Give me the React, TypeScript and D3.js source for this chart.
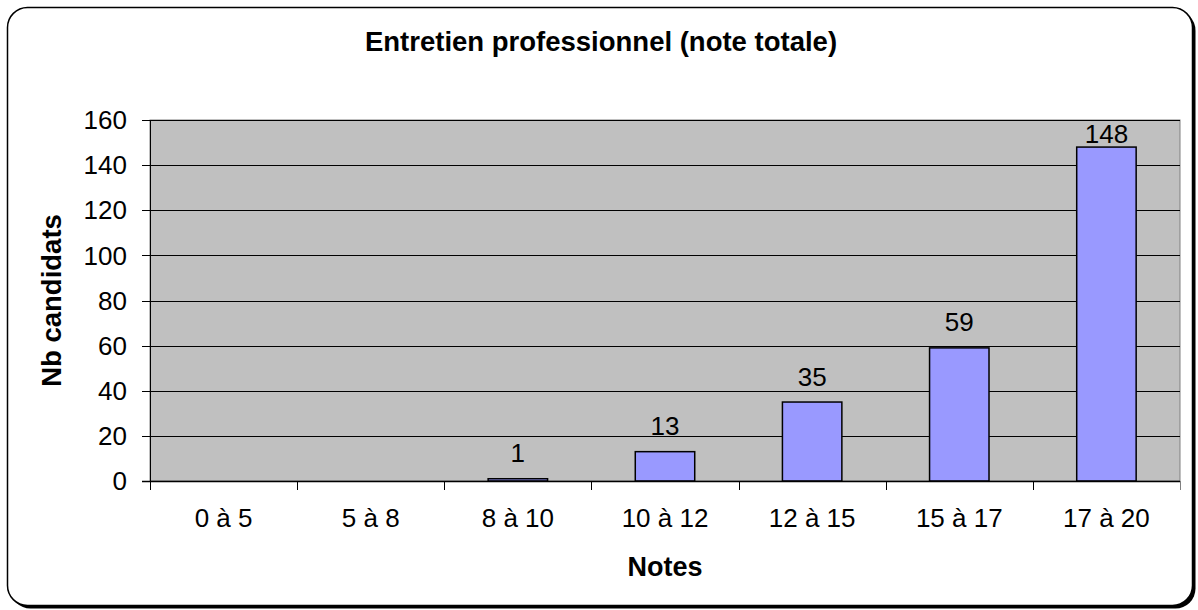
import React from "react";
import * as d3 from "d3";

const categories = ["0 à 5", "5 à 8", "8 à 10", "10 à 12", "12 à 15", "15 à 17", "17 à 20"];
const counts = [0, 0, 1, 13, 35, 59, 148];
const yTicks = [0, 20, 40, 60, 80, 100, 120, 140, 160];
const titleText = "Entretien professionnel (note totale)";
const xTitle = "Notes";
const yTitle = "Nb candidats";

const W = 1198;
const H = 610;
const plot = { left: 150, right: 1180, top: 120, bottom: 481 };
const FONT = "Arial, 'Liberation Sans', Helvetica, sans-serif";
const FS = 26;

export default function App() {
  const x = d3
    .scaleBand<string>()
    .domain(categories)
    .range([plot.left, plot.right])
    .paddingInner(0.596)
    .paddingOuter(0.298);
  const y = d3.scaleLinear().domain([0, 160]).range([plot.bottom, plot.top]);
  const step = (plot.right - plot.left) / categories.length;
  const boundaries = d3.range(categories.length + 1).map((i) => plot.left + i * step);

  return (
    <svg
      width={W}
      height={H}
      style={{ position: "absolute", left: 0, top: 0, display: "block", background: "#fff" }}
      fontFamily={FONT}
    >
      {/* frame with shadow */}
      <rect x={10.5} y={10.5} width={1185} height={598} rx={20} fill="#000" />
      <rect x={7.5} y={7.5} width={1185} height={598} rx={20} fill="#fff" stroke="#000" strokeWidth={1.5} />

      {/* title */}
      <text x={601} y={51} textAnchor="middle" fontSize={27.5} fontWeight="bold" fill="#000">
        {titleText}
      </text>

      {/* plot area */}
      <rect
        x={plot.left}
        y={plot.top}
        width={plot.right - plot.left}
        height={plot.bottom - plot.top}
        fill="#C0C0C0"
        stroke="#808080"
        strokeWidth={1}
      />
      {/* gridlines */}
      {yTicks
        .filter((t) => t > 0)
        .map((t) => (
          <line
            key={"g" + t}
            x1={plot.left}
            x2={plot.right}
            y1={Math.round(y(t)) + 0.5}
            y2={Math.round(y(t)) + 0.5}
            stroke="#000"
            strokeWidth={1}
          />
        ))}

      {/* bars */}
      {categories.map((c, i) => {
        const v = counts[i];
        if (v <= 0) return null;
        const bx = x(c)!;
        return (
          <rect
            key={"b" + c}
            x={bx}
            y={y(v)}
            width={x.bandwidth()}
            height={plot.bottom - y(v)}
            fill="#9999FF"
            stroke="#000"
            strokeWidth={1.5}
          />
        );
      })}

      {/* bar labels */}
      {categories.map((c, i) => {
        const v = counts[i];
        if (v <= 0) return null;
        const ly = Math.max(y(v) - 16.5, plot.top + 23);
        return (
          <text
            key={"l" + c}
            x={x(c)! + x.bandwidth() / 2}
            y={ly}
            textAnchor="middle"
            fontSize={FS}
            fill="#000"
          >
            {v}
          </text>
        );
      })}

      {/* axes */}
      <line x1={plot.left + 0.5} x2={plot.left + 0.5} y1={plot.top} y2={plot.bottom + 9} stroke="#000" strokeWidth={1} />
      <line x1={plot.left - 8} x2={plot.right} y1={plot.bottom + 0.5} y2={plot.bottom + 0.5} stroke="#000" strokeWidth={1.5} />
      {yTicks.map((t) => (
        <g key={"yt" + t}>
          <line
            x1={plot.left - 8}
            x2={plot.left}
            y1={Math.round(y(t)) + 0.5}
            y2={Math.round(y(t)) + 0.5}
            stroke="#000"
          />
          <text x={127} y={y(t) + 9.2} textAnchor="end" fontSize={FS} fill="#000">
            {t}
          </text>
        </g>
      ))}
      {boundaries.map((bx, i) => (
        <line
          key={"xt" + i}
          x1={Math.round(bx) + 0.5}
          x2={Math.round(bx) + 0.5}
          y1={plot.bottom}
          y2={plot.bottom + 9}
          stroke={i === boundaries.length - 1 ? "#808080" : "#000"}
        />
      ))}
      {categories.map((c) => (
        <text
          key={"xl" + c}
          x={x(c)! + x.bandwidth() / 2}
          y={527}
          textAnchor="middle"
          fontSize={FS}
          fill="#000"
        >
          {c}
        </text>
      ))}

      {/* axis titles */}
      <text x={(plot.left + plot.right) / 2} y={576} textAnchor="middle" fontSize={27} fontWeight="bold" fill="#000">
        {xTitle}
      </text>
      <text
        transform={`translate(61, ${(plot.top + plot.bottom) / 2}) rotate(-90)`}
        textAnchor="middle"
        fontSize={27.5}
        fontWeight="bold"
        fill="#000"
      >
        {yTitle}
      </text>
    </svg>
  );
}
